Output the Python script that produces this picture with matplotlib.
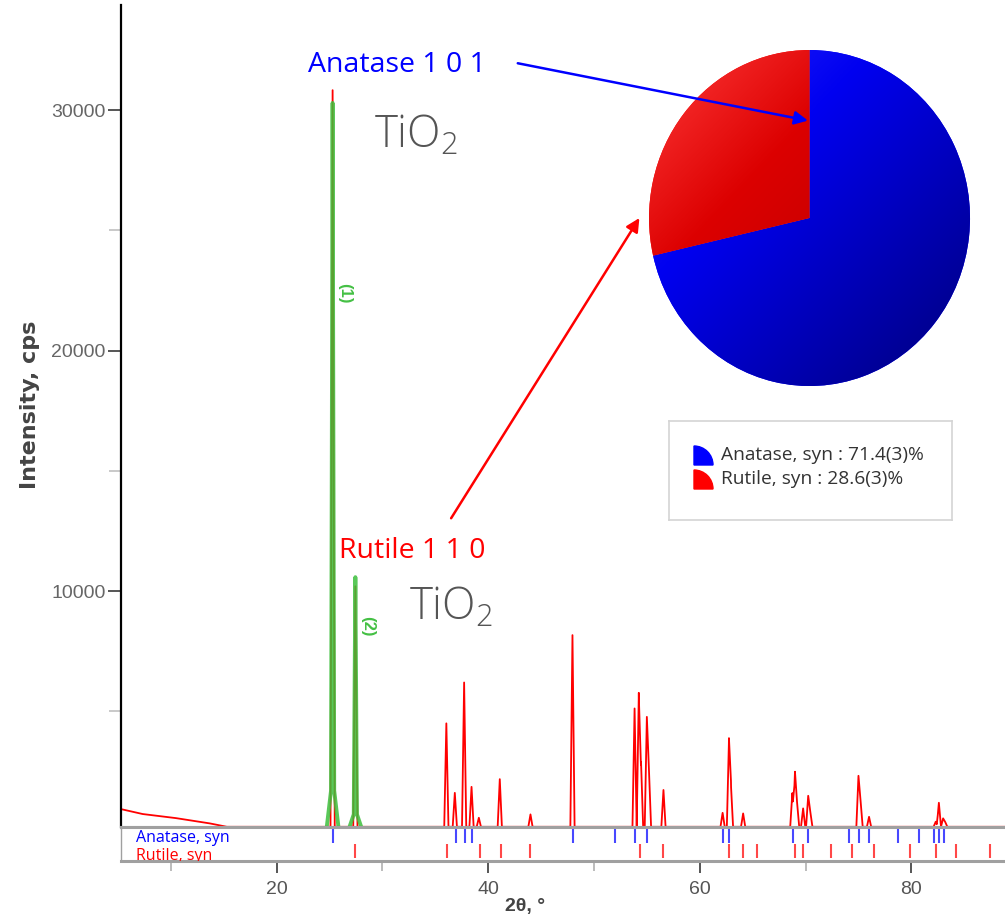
import numpy as np
import matplotlib.pyplot as plt
from matplotlib.colors import LinearSegmentedColormap
from matplotlib.patches import Wedge, ConnectionPatch

plt.rcParams['font.family'] = ['Liberation Sans', 'DejaVu Sans']
plt.rcParams['mathtext.fontset'] = 'custom'
plt.rcParams['mathtext.rm'] = 'Open Sans'

# low-angle background of the measured profile
bg_angle = [5.3, 7.35, 10.5, 13.7, 15.3]
bg_int = [935, 730, 560, 340, 200]
baseline = 200

# full profile peaks (2theta, cps)
peak_pos = [25.3, 27.45, 36.05, 36.85, 37.73, 38.43, 39.12, 41.1, 44.0, 47.97,
            53.84, 54.24, 54.45, 55.0, 55.2, 56.57, 62.16, 62.76, 62.95, 64.1,
            68.75, 69.0, 69.2, 69.77, 70.25, 70.45, 75.0, 75.2, 76.0,
            82.3, 82.6, 83.0, 83.2]
peak_int = [30830, 10200, 4500, 1610, 6200, 1860, 575, 2180, 715, 8170,
            5120, 5770, 2900, 4770, 2550, 1730, 780, 3800, 1930, 755,
            1600, 2490, 1200, 965, 1490, 820, 2320, 1280, 615,
            410, 1200, 550, 400]

# fitted single peaks (1) and (2)
fit_pos = [25.3, 27.45]
fit_int = [30300, 10580]
fit_labels = ['(1)', '(2)']
# peak outline: offsets from centre and fraction of peak height
fit_dx = [-0.55, -0.15, 0.0, 0.15, 0.55]
fit_frac = [0.0, 0.05, 1.0, 0.05, 0.0]

# reference line positions
anatase_lines = [25.3, 36.95, 37.83, 38.5, 48.05, 51.95, 53.84, 55.04, 62.19, 62.75,
                 68.77, 70.25, 74.12, 75.06, 76.0, 78.7, 80.7, 82.1, 82.6, 83.1]
rutile_lines = [27.45, 36.07, 39.2, 41.25, 44.0, 54.33, 56.53, 62.75, 64.05, 65.45,
                69.0, 69.8, 72.4, 74.4, 76.5, 79.85, 82.3, 84.25, 87.4]

# quantitative phase analysis
phase_names = ['Anatase, syn', 'Rutile, syn']
phase_pct = [71.4, 28.6]
phase_err = ['(3)', '(3)']
phase_colors = ['#0000ff', '#ff0000']
phase_grad = [['#2a2aff', '#0000f0', '#00007a'],
              ['#ff3a3a', '#dc0000', '#a80000']]

xmin, xmax = 5.3, 88.85
hw = 0.2

# build the measured profile from the peak list
xs = set(bg_angle + [xmax])
for p in peak_pos:
    xs.update([p - hw, p, p + hw])
xs = np.array(sorted(xs))
ys = np.interp(xs, bg_angle, bg_int, right=baseline)
for p, h in zip(peak_pos, peak_int):
    ys += np.clip((h - baseline) * (1 - np.abs(xs - p) / hw), 0, None)

fig = plt.figure(figsize=(10.05, 9.18), dpi=100)

ax = fig.add_axes([0.1204, 0.0991, 0.8796, 0.8954])
ax.plot(xs, ys, color='#ff0000', lw=1.3, zorder=2)
for p, h in zip(fit_pos, fit_int):
    ax.plot([p + d for d in fit_dx], [baseline + f * (h - baseline) for f in fit_frac],
            color='#3cbf3c', lw=2.8, alpha=0.85, zorder=3)
ax.text(26.47, 22370, fit_labels[0], rotation=270, color='#44c044', fontsize=12,
        fontweight='bold', ha='center', va='center')
ax.text(28.63, 8520, fit_labels[1], rotation=270, color='#44c044', fontsize=12,
        fontweight='bold', ha='center', va='center')

ax.set_xlim(xmin, xmax)
ax.set_ylim(190, 34370)
ax.set_yticks([10000, 20000, 30000])
ax.set_yticks([5000, 15000, 25000], minor=True)
ax.tick_params(axis='y', which='major', length=9.4, width=1.4, color='#555555',
               labelsize=14, labelcolor='#666666', pad=1.5)
ax.tick_params(axis='y', which='minor', length=8.6, width=1.1, color='#bbbbbb')
ax.tick_params(axis='x', which='both', bottom=False, labelbottom=False)
ax.spines[['top', 'right']].set_visible(False)
ax.spines['left'].set_color('black')
ax.spines['left'].set_linewidth(1.6)
ax.spines['bottom'].set_color('#a0a0a0')
ax.spines['bottom'].set_linewidth(2.2)

# phase labels on the plot
ax.text(23.0, 31580, 'Anatase 1 0 1', color='#0000ff', fontsize=20.5,
        family='Open Sans', va='baseline')
ax.text(25.95, 11370, 'Rutile 1 1 0', color='#ff0000', fontsize=20.5,
        family='Open Sans', va='baseline')
ax.text(29.2, 28450, r'TiO$_\mathregular{2}$', color='#555555', fontsize=31.5,
        family='Open Sans', fontweight='light', va='baseline')
ax.text(32.55, 8790, r'TiO$_\mathregular{2}$', color='#555555', fontsize=31.5,
        family='Open Sans', fontweight='light', va='baseline')

# reference line panel
pax = fig.add_axes([0.1204, 0.0621, 0.8796, 0.037])
pax.vlines(anatase_lines, 0.53, 0.94, color='#4848ff', lw=1.5)
pax.vlines(rutile_lines, 0.09, 0.5, color='#ff4848', lw=1.5)
pax.text(0.017, 0.68, phase_names[0], transform=pax.transAxes, color='#0000ff',
         fontsize=11.5, family='Open Sans', va='center', clip_on=True)
pax.text(0.017, 0.16, phase_names[1], transform=pax.transAxes, color='#ff0000',
         fontsize=11.5, family='Open Sans', va='center', clip_on=True)
pax.set_xlim(xmin, xmax)
pax.set_ylim(0, 1)
pax.set_yticks([])
pax.set_xticks([20, 40, 60, 80])
pax.set_xticks([10, 30, 50, 70], minor=True)
pax.tick_params(axis='x', which='major', length=8.6, width=1.4, color='#555555',
                labelsize=14, labelcolor='#555555', pad=6)
pax.tick_params(axis='x', which='minor', length=7.2, width=1.1, color='#aaaaaa')
pax.spines['right'].set_visible(False)
for side, lw in [('top', 2.2), ('bottom', 2.2), ('left', 1.0)]:
    pax.spines[side].set_color('#a0a0a0')
    pax.spines[side].set_linewidth(lw)

fig.text(505 / 1005, 11 / 918, '2θ, °', fontsize=14, fontweight='bold',
         color='#444444', va='center', ha='left')
fig.text(30 / 1005, 513 / 918, 'Intensity, cps', rotation=90, fontsize=16,
         fontweight='bold', family='DejaVu Sans', color='#444444',
         ha='center', va='center')

# phase fraction pie with shaded wedges
pie_ax = fig.add_axes([0.6458, 0.5795, 0.3194, 0.366])
wedges, _ = pie_ax.pie(phase_pct, colors=phase_colors, startangle=90,
                       counterclock=False, radius=1)
gx, gy = np.meshgrid(np.linspace(-1, 1, 400), np.linspace(-1, 1, 400))
shade = (gx - gy + 2) / 4
for w, stops in zip(wedges, phase_grad):
    cmap = LinearSegmentedColormap.from_list('shade', [(0, stops[0]), (0.35, stops[1]), (1, stops[2])])
    im = pie_ax.imshow(shade, cmap=cmap, vmin=0, vmax=1, origin='lower',
                       extent=(-1, 1, -1, 1), aspect='auto', zorder=3)
    im.set_clip_path(w)
pie_ax.set_aspect('auto')
pie_ax.set_xlim(-1, 1)
pie_ax.set_ylim(-1, 1)
pie_ax.axis('off')

# arrows from the labels to the pie
for tail, head, col in [((42.8, 31950), (-0.01, 0.58), '#0000ff'),
                        ((36.5, 13030), (-1.06, 0.0), '#ff0000')]:
    con = ConnectionPatch(xyA=tail, coordsA=ax.transData, xyB=head, coordsB=pie_ax.transData,
                          arrowstyle='-|>', color=col, lw=1.8, mutation_scale=20,
                          shrinkA=0, shrinkB=0)
    fig.add_artist(con)

# legend box
lax = fig.add_axes([669 / 1005, (918 - 520) / 918, 283 / 1005, 99 / 918])
lax.set_xlim(0, 283)
lax.set_ylim(0, 99)
lax.set_xticks([])
lax.set_yticks([])
for s in lax.spines.values():
    s.set_color('#d4d4d4')
    s.set_linewidth(1.2)
for i, (name, pct, err, col) in enumerate(zip(phase_names, phase_pct, phase_err, phase_colors)):
    y0 = 55 - 24 * i
    lax.add_patch(Wedge((25, y0), 19, 0, 90, color=col))
    lax.text(52, y0 + 10, f'{name} : {pct:.1f}{err}%', fontsize=13.8,
             family='Open Sans', color='#333333', va='center')

fig.savefig('out.png', dpi=100, facecolor='white')
